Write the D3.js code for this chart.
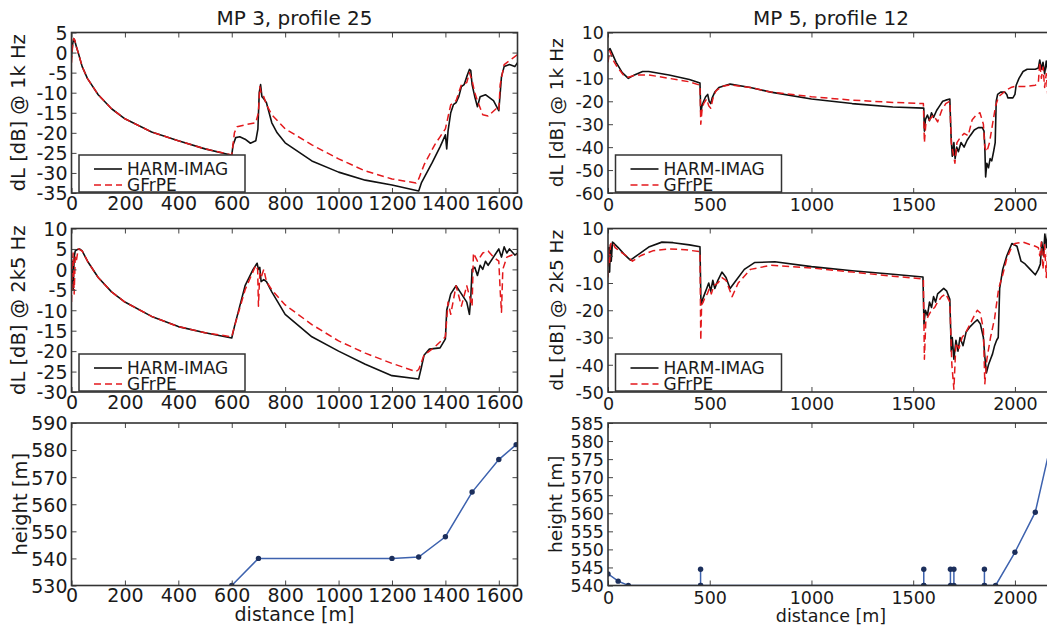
<!DOCTYPE html>
<html>
<head>
<meta charset="utf-8">
<script src="https://cdn.jsdelivr.net/npm/d3@7"></script>
<style>
  body { margin: 0; background: #fff; }
  svg { display: block; }
  text { font-family: "DejaVu Sans", sans-serif; fill: #1a1a1a; }
</style>
</head>
<body>
<svg id="chart" width="1047" height="629"></svg>
<script>
// ---- MP 3, profile 25 : dL at 1 kHz
var mp3Harm1kX = [0, 4, 8, 12, 18, 25, 40, 60, 100, 150, 200, 300, 400, 500, 600, 605, 615, 630, 650, 670, 690, 698, 703, 708, 713, 720, 730, 740, 750, 770, 800, 900, 1000, 1100, 1200, 1300, 1310, 1350, 1380, 1400, 1405, 1410, 1420, 1430, 1440, 1450, 1460, 1470, 1480, 1490, 1495, 1500, 1510, 1520, 1530, 1550, 1580, 1600, 1610, 1620, 1640, 1660, 1670];
var mp3Harm1kY = [-1, 2, 3.5, 3, 1.5, 0, -3.5, -6.5, -10.5, -14, -16.5, -19.8, -22, -24, -25.6, -23, -21.2, -21, -21.6, -22.6, -22, -19, -10, -8, -11, -11.5, -12.5, -15, -17.5, -20, -22.5, -27, -29.8, -31.8, -33, -34.5, -32.5, -27.5, -23.5, -20.5, -24, -19.5, -15, -13, -12.5, -11, -8.5, -8, -6, -4.2, -4.5, -8, -11, -13.5, -11, -10.5, -12, -14.5, -6, -3.5, -3, -3.5, -2.5];
var mp3Gfr1kX = [0, 4, 8, 12, 18, 25, 40, 60, 100, 150, 200, 300, 400, 500, 600, 610, 620, 650, 690, 700, 705, 710, 720, 730, 750, 800, 900, 1000, 1100, 1200, 1290, 1300, 1320, 1360, 1380, 1400, 1410, 1420, 1440, 1460, 1480, 1490, 1500, 1510, 1520, 1540, 1560, 1590, 1600, 1605, 1620, 1650, 1670];
var mp3Gfr1kY = [-2.5, 1.5, 3.5, 3.2, 1.5, 0, -3.5, -6.5, -10.5, -14, -16.5, -19.8, -22, -24, -25.5, -20, -18.5, -18, -17.5, -15, -8.5, -10, -11, -13, -15.5, -19, -23, -26.5, -29.5, -31.5, -32.5, -31.5, -28, -23, -21, -19, -16, -13, -12, -8, -7.5, -5, -7, -10, -12, -15.5, -15.8, -14, -14.5, -8, -3, -1.5, -0.5];

// ---- MP 3, profile 25 : dL at 2.5 kHz
var mp3Harm2kX = [0, 3, 6, 10, 14, 20, 30, 40, 60, 100, 150, 200, 300, 400, 500, 600, 610, 630, 650, 680, 695, 700, 705, 710, 720, 730, 750, 800, 900, 1000, 1100, 1200, 1300, 1310, 1320, 1340, 1380, 1400, 1405, 1420, 1440, 1460, 1480, 1490, 1495, 1500, 1510, 1520, 1530, 1540, 1550, 1560, 1580, 1600, 1610, 1620, 1630, 1640, 1660, 1670];
var mp3Harm2kY = [-3, 2, -5, 3, 4.5, 4.8, 5, 4.5, 2, -2, -5.5, -8, -11.5, -14, -15.5, -16.8, -14, -9, -4, 0, 1.5, 0, 0.5, -3, -2.5, -3, -5.5, -11, -16.5, -20, -23.2, -26, -26.8, -24, -21, -19.5, -19.2, -17, -10, -6, -4, -6, -8, -11, -7, 0, 0.5, -1.5, 1, 0, 2, 1, 3, 5, 3, 5.5, 4, 5, 3.5, 4];
var mp3Gfr2kX = [0, 3, 6, 10, 14, 18, 25, 40, 60, 100, 150, 200, 300, 400, 500, 600, 610, 650, 690, 697, 700, 705, 710, 720, 730, 750, 800, 900, 1000, 1100, 1200, 1290, 1300, 1320, 1360, 1400, 1410, 1420, 1440, 1460, 1480, 1500, 1505, 1520, 1540, 1560, 1580, 1600, 1605, 1610, 1615, 1630, 1650, 1670];
var mp3Gfr2kY = [-8, 1, 4, -6, 3, 2, 5, 4.5, 2, -2, -5.5, -8, -11.5, -14, -15.5, -16.5, -14, -5, 1, 0, -9, -1, -2, 0, -3, -5, -8.7, -13.5, -17.5, -20.5, -23, -25, -24.5, -21, -19, -16.5, -8, -11, -4, -9, -4, -9, 4, 2, 4, 4.5, 3, 2, -5, -10.5, 0, 3, 3.5, 3.5];

// ---- MP 3 terrain
var mp3TerrainX = [600, 700, 1200, 1300, 1400, 1500, 1600, 1665];
var mp3TerrainY = [530, 540, 540, 540.5, 548, 564.5, 576.5, 582];

// ---- MP 5, profile 12 : dL at 1 kHz
var mp5Harm1kX = [0, 10, 20, 40, 70, 100, 130, 170, 200, 300, 400, 452, 456, 462, 470, 480, 490, 497, 505, 512, 525, 545, 580, 600, 700, 800, 1000, 1200, 1400, 1552, 1555, 1560, 1570, 1580, 1590, 1600, 1615, 1630, 1645, 1660, 1680, 1686, 1692, 1700, 1706, 1714, 1722, 1735, 1750, 1765, 1780, 1800, 1820, 1840, 1848, 1852, 1856, 1862, 1870, 1878, 1886, 1895, 1903, 1908, 1915, 1930, 1950, 1960, 1965, 1990, 2000, 2006, 2020, 2040, 2060, 2100, 2115, 2122, 2130, 2138, 2146, 2154, 2162, 2170, 2180, 2193];
var mp5Harm1kY = [2, 3, 1, -3, -7.5, -10, -8.5, -7, -7, -8.5, -10.5, -12, -25, -22, -20, -18, -17, -20, -21, -18.5, -16, -14, -13, -12.5, -14, -16, -19, -21, -22.5, -23, -33, -28, -26, -28.5, -25, -27, -24, -22, -20, -19.5, -19, -35, -44, -38, -45, -40, -42, -38, -40, -37, -35, -32.5, -31.5, -31.5, -33, -40, -53, -47, -49, -45, -46, -42, -38, -20, -17, -16, -16, -17, -18.5, -18.5, -17, -13, -10, -7, -6, -6, -5.5, -2, -6, -3, -8, -2.5, -7, -4, -6, -4];
var mp5Gfr1kX = [0, 8, 15, 25, 45, 75, 100, 140, 200, 300, 400, 452, 456, 462, 470, 485, 495, 505, 515, 530, 560, 600, 700, 800, 1000, 1200, 1400, 1550, 1555, 1562, 1580, 1600, 1620, 1640, 1660, 1680, 1687, 1695, 1705, 1715, 1730, 1750, 1770, 1790, 1810, 1828, 1845, 1852, 1862, 1875, 1890, 1905, 1920, 1940, 1960, 1980, 2000, 2050, 2100, 2115, 2122, 2130, 2138, 2146, 2154, 2162, 2170, 2180, 2193];
var mp5Gfr1kY = [-3, 2, 0.5, -2, -5, -8.5, -9.5, -8.5, -8.5, -10, -11.5, -13, -30, -24, -21, -19, -22, -23, -19, -15.5, -13.5, -12.8, -14, -16, -18, -19.5, -20.5, -21, -38, -30, -28, -26, -29, -24, -21, -20, -38, -42, -47, -38, -36, -34, -35, -28, -26, -25, -30, -40, -42, -38, -30, -22, -18, -16.5, -15, -14, -13.5, -13.5, -13, -12, -3, -10, -5, -14, -8, -18, -12, -20, -15];

// ---- MP 5, profile 12 : dL at 2.5 kHz
var mp5Harm2kX = [0, 4, 8, 12, 16, 22, 30, 50, 80, 110, 150, 200, 265, 320, 400, 452, 457, 465, 475, 485, 495, 505, 515, 525, 540, 560, 580, 600, 630, 670, 720, 820, 1000, 1200, 1400, 1548, 1553, 1560, 1570, 1580, 1590, 1600, 1610, 1620, 1635, 1650, 1665, 1680, 1687, 1692, 1700, 1710, 1720, 1730, 1745, 1760, 1780, 1800, 1815, 1830, 1845, 1852, 1860, 1870, 1880, 1890, 1900, 1910, 1918, 1925, 1940, 1960, 1985, 2010, 2030, 2050, 2075, 2100, 2115, 2125, 2132, 2140, 2147, 2155, 2162, 2170, 2178, 2186, 2193];
var mp5Harm2kY = [-1, 3, -6, 4, -2, 5, 4.5, 3, 0.5, -1.6, 0.5, 3.2, 5, 4.8, 4, 3.3, -18, -16, -14, -12, -10, -13, -9, -12, -9, -6, -8, -12, -9, -5, -2.5, -2.2, -4, -5.5, -6.8, -7.8, -25, -20, -22, -17, -19, -15, -17, -14, -13, -12, -13, -16, -35, -30, -38, -31, -35, -30, -33, -28, -26, -24.5, -23.5, -25, -30, -37, -43, -40, -38, -36, -33, -31, -30, -12, -5, 0, 4.5, 3.5, -2, -3, -5, -7, -5, -3, 5, 0, 8, 3, 9, 1, 7, 2, 6, 4];
var mp5Gfr2kX = [0, 4, 8, 12, 18, 25, 35, 60, 90, 120, 160, 220, 300, 380, 452, 456, 460, 468, 478, 488, 498, 508, 520, 540, 560, 580, 595, 610, 640, 700, 800, 1000, 1200, 1400, 1550, 1555, 1562, 1575, 1590, 1605, 1620, 1640, 1660, 1680, 1690, 1700, 1710, 1725, 1740, 1760, 1780, 1800, 1815, 1830, 1845, 1852, 1862, 1880, 1900, 1920, 1940, 1960, 1980, 2000, 2040, 2070, 2100, 2115, 2122, 2130, 2138, 2146, 2154, 2162, 2170, 2178, 2186, 2193];
var mp5Gfr2kY = [-8, 2, -3, 4, 5, 4.5, 3, 1.5, 0, -2, 0, 1.8, 2.5, 2.2, 1.5, -31, -18, -17, -15, -14, -12, -14, -11, -10, -8, -9, -12, -15, -10, -5, -3.5, -4.5, -6, -7.5, -8.5, -38, -24, -22, -20, -19, -17, -15, -14, -17, -40, -49, -32, -34, -30, -28, -25, -22, -20, -21, -27, -47, -38, -30, -23, -12, -7, -1, 2.5, 4.5, 5, 4.2, 3.5, 3, 0, 5, -5, 4, -8, 3, -10, 2, -6, -3];

// ---- MP 5 terrain (barriers drawn as spikes)
var mp5TerrainX = [0, 50, 100, 455, 455, 455, 1552, 1552, 1552, 1683, 1683, 1700, 1700, 1850, 1850, 1850, 1905, 2000, 2100, 2200];
var mp5TerrainY = [543.2, 541.2, 540, 540, 544.5, 540, 540, 544.5, 540, 540, 544.5, 544.5, 540, 540, 544.5, 540, 540, 549.2, 560.3, 585];

// ---- axis ticks
var mp3DistTicks = [0, 200, 400, 600, 800, 1000, 1200, 1400, 1600];
var mp5DistTicks = [0, 500, 1000, 1500, 2000];
var mp3Level1kTicks = [-35, -30, -25, -20, -15, -10, -5, 0, 5];
var mp3Level2kTicks = [-30, -25, -20, -15, -10, -5, 0, 5, 10];
var mp5Level1kTicks = [-60, -50, -40, -30, -20, -10, 0, 10];
var mp5Level2kTicks = [-50, -40, -30, -20, -10, 0, 10];
var mp3HeightTicks = [530, 540, 550, 560, 570, 580, 590];
var mp5HeightTicks = [540, 545, 550, 555, 560, 565, 570, 575, 580, 585];

var seriesNames = ["HARM-IMAG", "GFrPE"];
var titles = ["MP 3, profile 25", "MP 5, profile 12"];

var svg = d3.select("#chart");
var red = "#e3191c";
// plain hyphen minus, like the original plot
var fmt = function (d) { return String(d); };

// the two columns come from differently scaled figures
var colLeft = { left: 71.5, tick: 19, xpad: 3, ylabel: 19.5, xlabel: 19, xlabelY: 621 };
var colRight = { left: 608, tick: 17.5, xpad: 6, ylabel: 18.5, xlabel: 17.5, xlabelY: 622 };

function levelSeries(hx, hy, gx, gy) {
  return [
    { pts: d3.zip(hx, hy), color: "#111", width: 1.6, dash: null },
    { pts: d3.zip(gx, gy), color: red, width: 1.5, dash: "7,4" }
  ];
}

var panels = [
  { col: colLeft, top: 32.5, bottom: 193, xMax: 1670, xTicks: mp3DistTicks, yDom: [-35, 5], yTicks: mp3Level1kTicks,
    ylabel: "dL [dB] @ 1k Hz", ylabelX: 18, series: levelSeries(mp3Harm1kX, mp3Harm1kY, mp3Gfr1kX, mp3Gfr1kY), legend: true, title: titles[0] },
  { col: colLeft, top: 228.5, bottom: 392, xMax: 1670, xTicks: mp3DistTicks, yDom: [-30, 10], yTicks: mp3Level2kTicks,
    ylabel: "dL [dB] @ 2k5 Hz", ylabelX: 18, series: levelSeries(mp3Harm2kX, mp3Harm2kY, mp3Gfr2kX, mp3Gfr2kY), legend: true },
  { col: colLeft, top: 423, bottom: 585.5, xMax: 1670, xTicks: mp3DistTicks, yDom: [530, 590], yTicks: mp3HeightTicks,
    ylabel: "height [m]", ylabelX: 20, terrain: d3.zip(mp3TerrainX, mp3TerrainY), xlabel: "distance [m]" },
  { col: colRight, top: 32.5, bottom: 193, xMax: 2192, xTicks: mp5DistTicks, yDom: [-60, 10], yTicks: mp5Level1kTicks,
    ylabel: "dL [dB] @ 1k Hz", ylabelX: 557, series: levelSeries(mp5Harm1kX, mp5Harm1kY, mp5Gfr1kX, mp5Gfr1kY), legend: true, title: titles[1] },
  { col: colRight, top: 228.5, bottom: 392, xMax: 2192, xTicks: mp5DistTicks, yDom: [-50, 10], yTicks: mp5Level2kTicks,
    ylabel: "dL [dB] @ 2k5 Hz", ylabelX: 557, series: levelSeries(mp5Harm2kX, mp5Harm2kY, mp5Gfr2kX, mp5Gfr2kY), legend: true },
  { col: colRight, top: 423, bottom: 585.5, xMax: 2192, xTicks: mp5DistTicks, yDom: [540, 585], yTicks: mp5HeightTicks,
    ylabel: "height [m]", ylabelX: 556, terrain: d3.zip(mp5TerrainX, mp5TerrainY), xlabel: "distance [m]" }
];

var panelWidth = 446;

panels.forEach(function (p, i) {
  var c = p.col;
  var h = p.bottom - p.top;
  var x = d3.scaleLinear().domain([0, p.xMax]).range([0, panelWidth]);
  var y = d3.scaleLinear().domain(p.yDom).range([h, 0]);
  var g = svg.append("g").attr("transform", "translate(" + c.left + "," + p.top + ")");

  svg.append("clipPath").attr("id", "clip" + i)
    .append("rect").attr("width", panelWidth).attr("height", h);

  var plot = g.append("g").attr("clip-path", "url(#clip" + i + ")");
  var line = d3.line().x(function (d) { return x(d[0]); }).y(function (d) { return y(d[1]); });

  if (p.series) {
    p.series.forEach(function (s) {
      plot.append("path").datum(s.pts)
        .attr("d", line)
        .attr("fill", "none")
        .attr("stroke", s.color)
        .attr("stroke-width", s.width)
        .attr("stroke-dasharray", s.dash)
        .attr("stroke-linejoin", "round");
    });
  }
  if (p.terrain) {
    plot.append("path").datum(p.terrain)
      .attr("d", line)
      .attr("fill", "none")
      .attr("stroke", "#3d62ae")
      .attr("stroke-width", 1.5);
    plot.selectAll("circle").data(p.terrain).enter().append("circle")
      .attr("cx", function (d) { return x(d[0]); })
      .attr("cy", function (d) { return y(d[1]); })
      .attr("r", 2.7)
      .attr("fill", "#1c2f5c");
  }

  // axes: inward ticks on all four sides
  g.append("g").attr("transform", "translate(0," + h + ")")
    .call(d3.axisBottom(x).tickValues(p.xTicks).tickSize(-5).tickPadding(c.xpad).tickFormat(fmt));
  var leftAxis = g.append("g")
    .call(d3.axisLeft(y).tickValues(p.yTicks).tickSize(-5).tickPadding(4).tickFormat(fmt));
  g.append("g").call(d3.axisTop(x).tickValues(p.xTicks).tickSize(-5).tickFormat(""));
  g.append("g").attr("transform", "translate(" + panelWidth + ",0)")
    .call(d3.axisRight(y).tickValues(p.yTicks).tickSize(-5).tickFormat(""));

  g.selectAll(".domain").remove();
  g.selectAll(".tick line").attr("stroke", "#444").attr("stroke-width", 1);
  g.selectAll(".tick text").attr("font-size", c.tick + "px").attr("font-family", "DejaVu Sans").attr("fill", "#1a1a1a");
  leftAxis.selectAll(".tick text").attr("dy", "0.36em");

  g.append("rect")
    .attr("width", panelWidth).attr("height", h)
    .attr("fill", "none").attr("stroke", "#333").attr("stroke-width", 1.6);

  if (p.legend) {
    var lg = g.append("g").attr("transform", "translate(7.5," + (h - 38) + ")");
    lg.append("rect").attr("width", 166).attr("height", 37)
      .attr("fill", "#fff").attr("stroke", "#333").attr("stroke-width", 1.5);
    p.series.forEach(function (s, k) {
      var cy = 14 + k * 16;
      lg.append("line").attr("x1", 15).attr("x2", 43).attr("y1", cy).attr("y2", cy)
        .attr("stroke", s.color).attr("stroke-width", s.width).attr("stroke-dasharray", s.dash);
      lg.append("text").attr("x", 48).attr("y", cy + 6)
        .attr("font-size", "17px").text(seriesNames[k]);
    });
  }

  if (p.title) {
    svg.append("text").attr("x", c.left + panelWidth / 2).attr("y", 24.5)
      .attr("text-anchor", "middle").attr("font-size", "20px").text(p.title);
  }

  svg.append("text")
    .attr("transform", "translate(" + p.ylabelX + "," + (p.top + h / 2) + ") rotate(-90)")
    .attr("text-anchor", "middle").attr("dy", "0.35em")
    .attr("font-size", c.ylabel + "px").text(p.ylabel);

  if (p.xlabel) {
    svg.append("text").attr("x", c.left + panelWidth / 2).attr("y", c.xlabelY)
      .attr("text-anchor", "middle").attr("font-size", c.xlabel + "px").text(p.xlabel);
  }
});
</script>
</body>
</html>
